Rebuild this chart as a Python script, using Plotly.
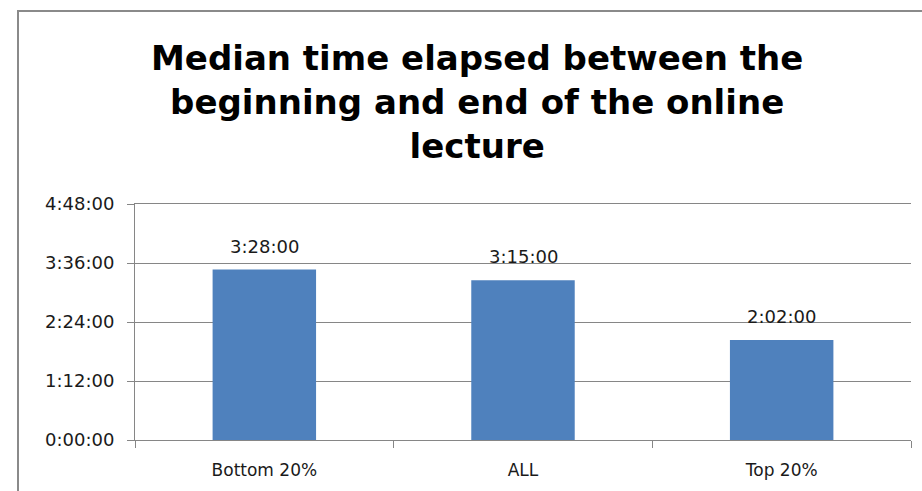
import plotly.graph_objects as go

categories = ["Bottom 20%", "ALL", "Top 20%"]
minutes = [208, 195, 122]          # 3:28:00, 3:15:00, 2:02:00
value_labels = ["3:28:00", "3:15:00", "2:02:00"]
tick_vals = [0, 72, 144, 216, 288]
tick_text = ["0:00:00", "1:12:00", "2:24:00", "3:36:00", "4:48:00"]
title_text = "Median time elapsed between the<br>beginning and end of the online<br>lecture"

W, H = 922, 491
L, R, T, B = 135, 11, 204, 51
pw, ph = W - L - R, H - T - B


def px_x(p):
    return (p - L) / pw


def px_y(p):
    return (H - B - p) / ph


fig = go.Figure()
fig.add_trace(go.Bar(x=categories, y=minutes, width=0.4,
                     marker=dict(color="#4f81bd", line=dict(width=0)),
                     hoverinfo="skip"))

for c, v, t in zip(categories, minutes, value_labels):
    fig.add_annotation(x=c, y=v, text=t, showarrow=False, yanchor="bottom",
                       yshift=11, font=dict(family="DejaVu Sans", size=18, color="#1a1a1a"))

# title
fig.add_annotation(x=px_x(477), y=px_y(102), xref="paper", yref="paper",
                   xanchor="center", yanchor="middle", showarrow=False,
                   text=title_text, align="center",
                   font=dict(family="DejaVu Sans", size=34, color="#000000", weight="bold"))

# outer chart border
fig.add_shape(type="rect", xref="paper", yref="paper",
              x0=px_x(18), x1=1.3, y0=-0.6, y1=px_y(11),
              line=dict(color="#8a8a8a", width=2), fillcolor="rgba(0,0,0,0)", layer="below")

fig.update_layout(
    width=W, height=H,
    margin=dict(l=L, r=R, t=T, b=B),
    paper_bgcolor="white", plot_bgcolor="white",
    showlegend=False,
    bargap=0.6,
)
fig.update_xaxes(type="category", showline=True, mirror=True, linecolor="#868686", linewidth=1,
                 ticks="outside", tickson="boundaries", ticklen=7, tickcolor="#868686",
                 ticklabelstandoff=15,
                 tickfont=dict(family="DejaVu Sans", size=17, color="#1a1a1a"),
                 showgrid=False, zeroline=False, fixedrange=True)
fig.update_yaxes(range=[0, 288], tickvals=tick_vals, ticktext=tick_text,
                 showline=True, linecolor="#868686", linewidth=1,
                 ticks="outside", ticklen=7, tickcolor="#868686",
                 ticklabelstandoff=9,
                 showgrid=True, gridcolor="#868686", gridwidth=1, zeroline=False,
                 tickfont=dict(family="DejaVu Sans", size=18, color="#1a1a1a"),
                 fixedrange=True)

fig.write_html("out.html", config={"displayModeBar": False},
               post_script="document.body.style.margin='0';document.body.style.overflow='hidden';")
